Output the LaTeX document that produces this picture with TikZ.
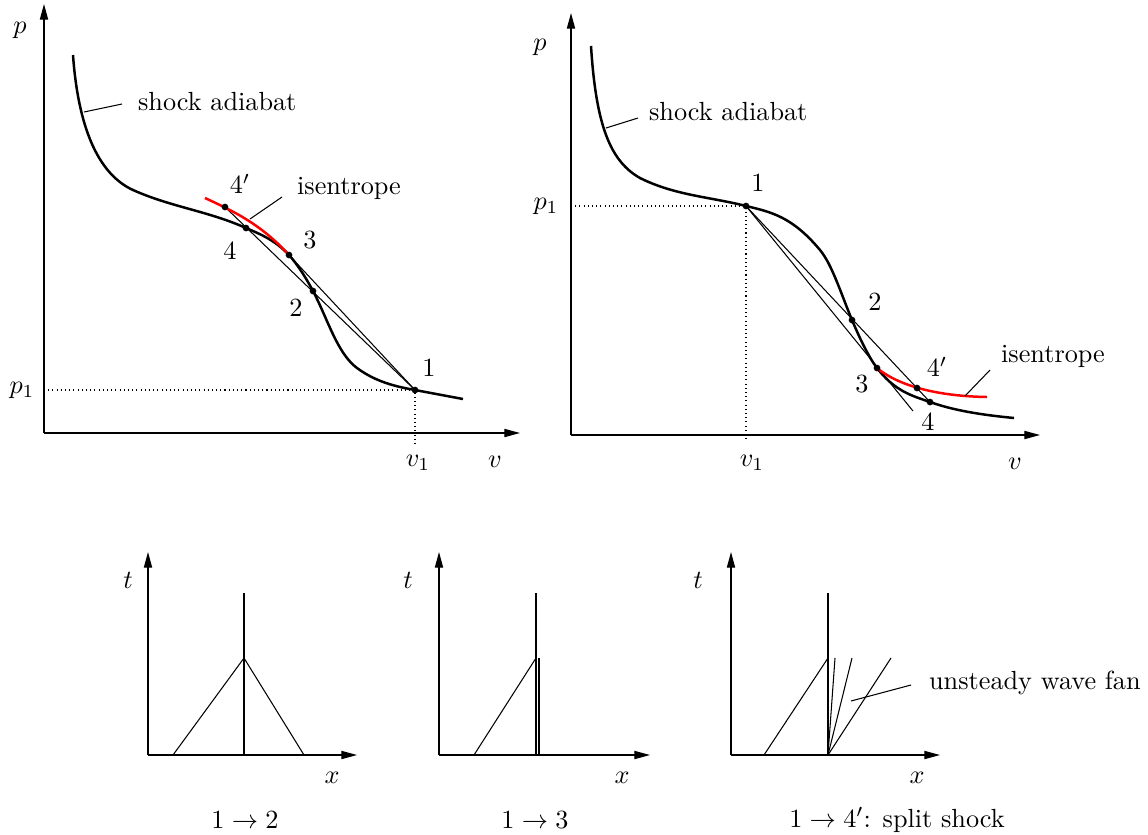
\documentclass[tikz,border=0pt]{standalone}
\usepackage{amsmath,amssymb}
\usepackage{tikz}
\usepackage{xcolor}
\usetikzlibrary{arrows.meta, positioning}

\begin{document}
\begin{tikzpicture}[
  x=0.0134cm, y=-0.0134cm,
  axis/.style={draw, -{Triangle[length=2.1mm, width=1.1mm]}, line width=0.45pt},
  adiabat/.style={draw, line width=0.95pt, line join=round},
  isen/.style={draw=red, line width=0.95pt},
  ray/.style={draw, line width=0.4pt},
  shockline/.style={draw, line width=0.95pt},
  guide/.style={draw, line width=0.4pt, dash pattern=on 0.4pt off 1.2pt},
  dot/.style={circle, fill=black, inner sep=0pt, minimum size=0.9mm},
  lbl/.style={inner sep=1pt},
  note/.style={anchor=west, inner sep=1pt}
]
  \useasboundingbox (0,0) rectangle (1148,834);

  % p-v diagram, left
  \coordinate (oL) at (44,433);
  \coordinate (yL) at (44,4);
  \coordinate (xL) at (520,433);
  \draw [axis] (oL) -- (yL);
  \draw [axis] (oL) -- (xL);
  \node [lbl] (pL)  at (20,30)   {$p$};
  \node [lbl] (vL)  at (495,462) {$v$};
  \node [lbl] (p1L) at (22,390)  {$p_1$};
  \node [lbl] (v1L) at (418,463) {$v_1$};

  \coordinate (a1) at (415,390);
  \coordinate (a2) at (313,291);
  \coordinate (a3) at (289,255);
  \coordinate (a4) at (246,228);
  \coordinate (a4p) at (225,207);
  \coordinate (gL) at (415,443);

  \draw [guide] (oL |- a1) -- (a1) -- (gL);
  \draw [ray] (a1) -- (a4p);
  \draw [ray] (a1) -- (a3);
  \draw [adiabat] (73,55) .. controls (78,125) and (97,173.5) .. (133,190)
    .. controls (171,207) and (208,211) .. (a4)
    .. controls (260,234) and (275,240) .. (a3)
    .. controls (297,264) and (305,276) .. (a2)
    .. controls (328,319.5) and (337,353) .. (357,368)
    .. controls (376,382) and (396,386.6) .. (a1)
    .. controls (431,393) and (447,396) .. (463,399);
  \draw [isen] (205,198) .. controls (233,211) and (261,224) .. (a3);

  \foreach \p in {a1,a2,a3,a4,a4p} \node [dot] (d\p) at (\p) {};

  \node [lbl] (n1L)  at (429,368) {1};
  \node [lbl] (n2L)  at (296,308) {2};
  \node [lbl] (n3L)  at (310,240) {3};
  \node [lbl] (n4L)  at (230,251) {4};
  \node [lbl] (n4pL) at (240,184) {$4'$};

  \coordinate (sL) at (84,112);
  \coordinate (sLe) at (122,104);
  \node [note] (sLt) at (135,102) {shock adiabat};
  \draw [ray] (sL) -- (sLe);
  \coordinate (iL) at (250,219);
  \coordinate (iLe) at (282,197);
  \node [note] (iLt) at (294,188) {isentrope};
  \draw [ray] (iL) -- (iLe);

  % p-v diagram, right
  \coordinate (oR) at (571,435);
  \coordinate (yR) at (571,13);
  \coordinate (xR) at (1040,435);
  \draw [axis] (oR) -- (yR);
  \draw [axis] (oR) -- (xR);
  \node [lbl] (pR)  at (540,47)  {$p$};
  \node [lbl] (vR)  at (1015,464) {$v$};
  \node [lbl] (p1R) at (546,206) {$p_1$};
  \node [lbl] (v1R) at (752,463) {$v_1$};

  \coordinate (b1) at (746,206);
  \coordinate (b2) at (852,320);
  \coordinate (b3) at (877,368);
  \coordinate (b4) at (930,402);
  \coordinate (b4p) at (917,388);
  \coordinate (bT) at (913,411);
  \coordinate (gR) at (746,442);

  \draw [guide] (oR |- b1) -- (b1) -- (gR);
  \draw [ray] (b1) -- (b4);
  \draw [ray] (b1) -- (bT);
  \draw [adiabat] (591,46) .. controls (596,125) and (610,161) .. (640,178)
    .. controls (675,195.5) and (711,197) .. (b1)
    .. controls (771,212) and (792,216.4) .. (820,250)
    .. controls (832,264.4) and (841,293.6) .. (b2)
    .. controls (860,339) and (869,357.6) .. (b3)
    .. controls (895,391.4) and (912,395.7) .. (b4)
    .. controls (958,412) and (990,415.6) .. (1014,418);
  \draw [isen] (b3) .. controls (895,383) and (930,396) .. (987,397);

  \foreach \p in {b1,b2,b3,b4,b4p} \node [dot] (d\p) at (\p) {};

  \node [lbl] (n1R)  at (758,183) {1};
  \node [lbl] (n2R)  at (875,302) {2};
  \node [lbl] (n3R)  at (862,384) {3};
  \node [lbl] (n4R)  at (928,422) {4};
  \node [lbl] (n4pR) at (937,367) {$4'$};

  \coordinate (sR) at (606,128);
  \coordinate (sRe) at (638,118);
  \node [note] (sRt) at (646,112) {shock adiabat};
  \draw [ray] (sR) -- (sRe);
  \coordinate (iR) at (965,396);
  \coordinate (iRe) at (990,370);
  \node [note] (iRt) at (998,356) {isentrope};
  \draw [ray] (iR) -- (iRe);

  % x-t diagram 1 -> 2
  \coordinate (o1) at (148,755);
  \coordinate (t1) at (148,552);
  \coordinate (x1) at (357,755);
  \draw [axis] (o1) -- (t1);
  \draw [axis] (o1) -- (x1);
  \node [lbl] (tA) at (128,580) {$t$};
  \node [lbl] (xA) at (332,778) {$x$};
  \node [lbl] (cA) at (245,820) {$1\rightarrow 2$};
  \coordinate (s1b) at (244,755);
  \coordinate (s1t) at (244,593);
  \coordinate (m1) at (244,658);
  \coordinate (l1) at (173,755);
  \coordinate (r1) at (304,755);
  \draw [shockline] (s1b) -- (s1t);
  \draw [ray] (l1) -- (m1) -- (r1);

  % x-t diagram 1 -> 3
  \coordinate (o2) at (439,755);
  \coordinate (t2) at (439,552);
  \coordinate (x2) at (650,755);
  \draw [axis] (o2) -- (t2);
  \draw [axis] (o2) -- (x2);
  \node [lbl] (tB) at (408,580) {$t$};
  \node [lbl] (xB) at (622,778) {$x$};
  \node [lbl] (cB) at (535,820) {$1\rightarrow 3$};
  \coordinate (s2b) at (536,755);
  \coordinate (s2t) at (536,593);
  \coordinate (m2) at (536,658);
  \coordinate (l2) at (474,755);
  \coordinate (w2b) at (539,755);
  \coordinate (w2t) at (539,658);
  \draw [shockline] (s2b) -- (s2t);
  \draw [ray, line width=0.6pt] (w2b) -- (w2t);
  \draw [ray] (l2) -- (m2);

  % x-t diagram 1 -> 4'
  \coordinate (o3) at (731,755);
  \coordinate (t3) at (731,552);
  \coordinate (x3) at (940,755);
  \draw [axis] (o3) -- (t3);
  \draw [axis] (o3) -- (x3);
  \node [lbl] (tC) at (698,580) {$t$};
  \node [lbl] (xC) at (917,778) {$x$};
  \node [lbl] (cC) at (897,820) {$1\rightarrow 4'$: split shock};
  \coordinate (s3b) at (828,755);
  \coordinate (s3t) at (828,593);
  \coordinate (m3) at (828,658);
  \coordinate (l3) at (764,755);
  \draw [shockline] (s3b) -- (s3t);
  \draw [ray] (l3) -- (m3);
  \foreach \fx [count=\k] in {835,852,891} {
    \coordinate (f\k) at (\fx,658);
    \draw [ray] (s3b) -- (f\k);
  }
  \coordinate (wF) at (851,701);
  \coordinate (wFe) at (911,685);
  \node [note] (wFt) at (926,683) {unsteady wave fan};
  \draw [ray] (wF) -- (wFe);
\end{tikzpicture}
\end{document}
